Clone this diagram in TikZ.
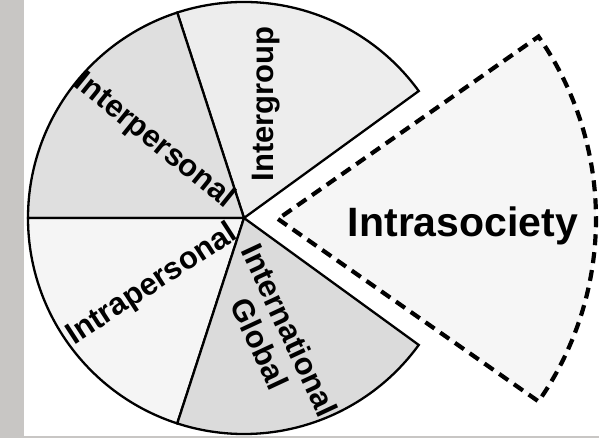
\documentclass[tikz,border=0pt]{standalone}
\usepackage{fontspec}
\setmainfont{Liberation Sans}
\begin{document}
\begin{tikzpicture}[x=1pt,y=1pt,
  wedge/.style={draw=black, line width=2.3pt, line join=miter},
  pulled/.style={draw=black, line width=4.2pt, dash pattern=on 11pt off 7pt, fill=gray!7},
  lbl/.style={font=\fontsize{31}{33}\selectfont\bfseries, inner sep=0pt, align=center},
  biglbl/.style={font=\fontsize{41}{45}\selectfont\bfseries, inner sep=0pt}]
  \useasboundingbox (0,0) rectangle (599,438);
  % page frame strips
  \fill[white] (0,0) rectangle (599,438);
  \fill[gray!40!brown!12!gray!45] (0,0) rectangle (24,438);
  \fill[gray!40!brown!12!gray!45] (0,0) rectangle (599,2);
  % pie centre and the pulled-out wedge tip
  \coordinate (c) at (244,220);
  \coordinate (t) at (278,219);
  \def\rr{216}
  % four sectors of the pie
  \filldraw[wedge, fill=gray!14] (c) -- ++(36:\rr) arc[start angle=36, end angle=108, radius=\rr] -- cycle;
  \filldraw[wedge, fill=gray!25] (c) -- ++(108:\rr) arc[start angle=108, end angle=180, radius=\rr] -- cycle;
  \filldraw[wedge, fill=gray!8] (c) -- ++(180:\rr) arc[start angle=180, end angle=252, radius=\rr] -- cycle;
  \filldraw[wedge, fill=gray!28] (c) -- ++(252:\rr) arc[start angle=252, end angle=324, radius=\rr] -- cycle;
  % the pulled-out sector
  \filldraw[pulled] (t) -- ++(-35:318) arc[start angle=-35, end angle=35, radius=318] -- cycle;
  % labels
  \node[lbl, rotate=90] (intergroup) at (266,334) {Intergroup};
  \node[lbl, rotate=-39] (interpersonal) at (154,297) {Interpersonal};
  \node[lbl, rotate=33] (intrapersonal) at (152,153) {Intrapersonal};
  \node[lbl, rotate=-65] (international) at (275,101) {International\\Global};
  \node[biglbl, anchor=base] (intrasociety) at (463,201) {Intrasociety};
\end{tikzpicture}
\end{document}
